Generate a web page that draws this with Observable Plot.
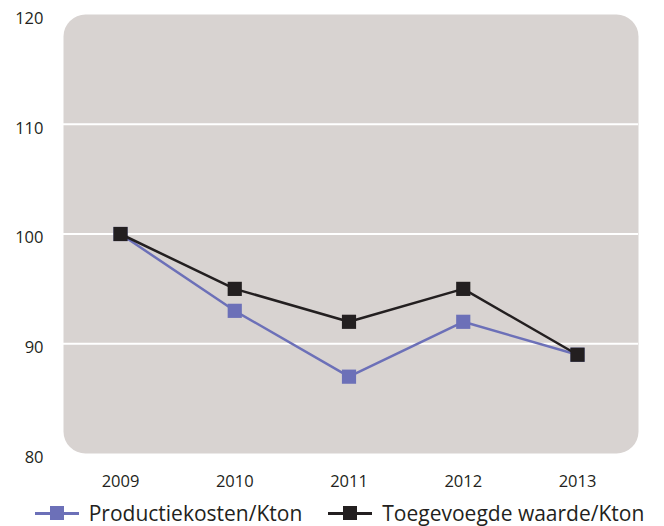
<!DOCTYPE html>
<html>
<head>
<meta charset="utf-8">
<script src="https://cdn.jsdelivr.net/npm/d3@7"></script>
<script src="https://cdn.jsdelivr.net/npm/@observablehq/plot@0.6"></script>
<style>
  html, body { margin: 0; padding: 0; background: #fff; }
  #chart { width: 664px; }
  .legend { display: flex; justify-content: center; align-items: center; height: 26px; gap: 26px;
    font-family: "Open Sans", sans-serif; font-size: 21px; color: #231f20; padding-left: 15px; }
  .item { display: flex; align-items: center; white-space: nowrap; }
  .swatch { position: relative; width: 44px; height: 14px; margin-right: 10px; }
  .swatch .ln { position: absolute; left: 0; right: 0; top: 6px; height: 2.5px; }
  .swatch .sq { position: absolute; left: 15px; top: 0; width: 14px; height: 14px; }
</style>
</head>
<body>
<div id="chart"></div>
<script>
const years = [2009, 2010, 2011, 2012, 2013];
const productiekosten = [100, 93, 87, 92, 89];
const toegevoegdeWaarde = [100, 95, 92, 95, 89];
const seriesNames = ["Productiekosten/Kton", "Toegevoegde waarde/Kton"];
const seriesColors = ["#6c70b8", "#231f20"];
const yTicks = [80, 90, 100, 110, 120];
const gridValues = [90, 100, 110];

const data = [
  ...years.map((y, i) => ({year: y, value: productiekosten[i], series: seriesNames[0]})),
  ...years.map((y, i) => ({year: y, value: toegevoegdeWaarde[i], series: seriesNames[1]}))
];

const font = "'Open Sans', sans-serif";

const plot = Plot.plot({
  width: 664,
  height: 500,
  marginLeft: 63,
  marginRight: 26,
  marginTop: 14,
  marginBottom: 47,
  style: {fontFamily: font, fontSize: "16.5px", color: "#231f20", background: "white"},
  x: {domain: [2009, 2013], range: [120, 577], ticks: years, tickFormat: d => String(d)},
  y: {domain: [80, 120], ticks: yTicks},
  color: {domain: seriesNames, range: seriesColors},
  marks: [
    Plot.frame({fill: "#d8d3d1", stroke: null, rx: 22}),
    Plot.ruleY(gridValues, {stroke: "white", strokeWidth: 2.2}),
    Plot.axisY({ticks: yTicks, tickSize: 0, tickPadding: 20, dy: 4, fontSize: 16.5, label: null}),
    Plot.axisX({ticks: years, tickSize: 0, tickPadding: 22, fontSize: 16.5, label: null, tickFormat: d => String(d)}),
    Plot.line(data.filter(d => d.series === seriesNames[0]), {x: "year", y: "value", stroke: seriesColors[0], strokeWidth: 2.5}),
    Plot.dot(data.filter(d => d.series === seriesNames[0]), {x: "year", y: "value", symbol: "square", r: 8, fill: seriesColors[0], stroke: null}),
    Plot.line(data.filter(d => d.series === seriesNames[1]), {x: "year", y: "value", stroke: seriesColors[1], strokeWidth: 2.5}),
    Plot.dot(data.filter(d => d.series === seriesNames[1]), {x: "year", y: "value", symbol: "square", r: 8, fill: seriesColors[1], stroke: null})
  ]
});

const chart = document.getElementById("chart");
chart.appendChild(plot);

const legend = document.createElement("div");
legend.className = "legend";
seriesNames.forEach((name, i) => {
  const item = document.createElement("div");
  item.className = "item";
  item.innerHTML = `<span class="swatch"><span class="ln" style="background:${seriesColors[i]}"></span><span class="sq" style="background:${seriesColors[i]}"></span></span><span>${name}</span>`;
  legend.appendChild(item);
});
chart.appendChild(legend);
</script>
</body>
</html>
